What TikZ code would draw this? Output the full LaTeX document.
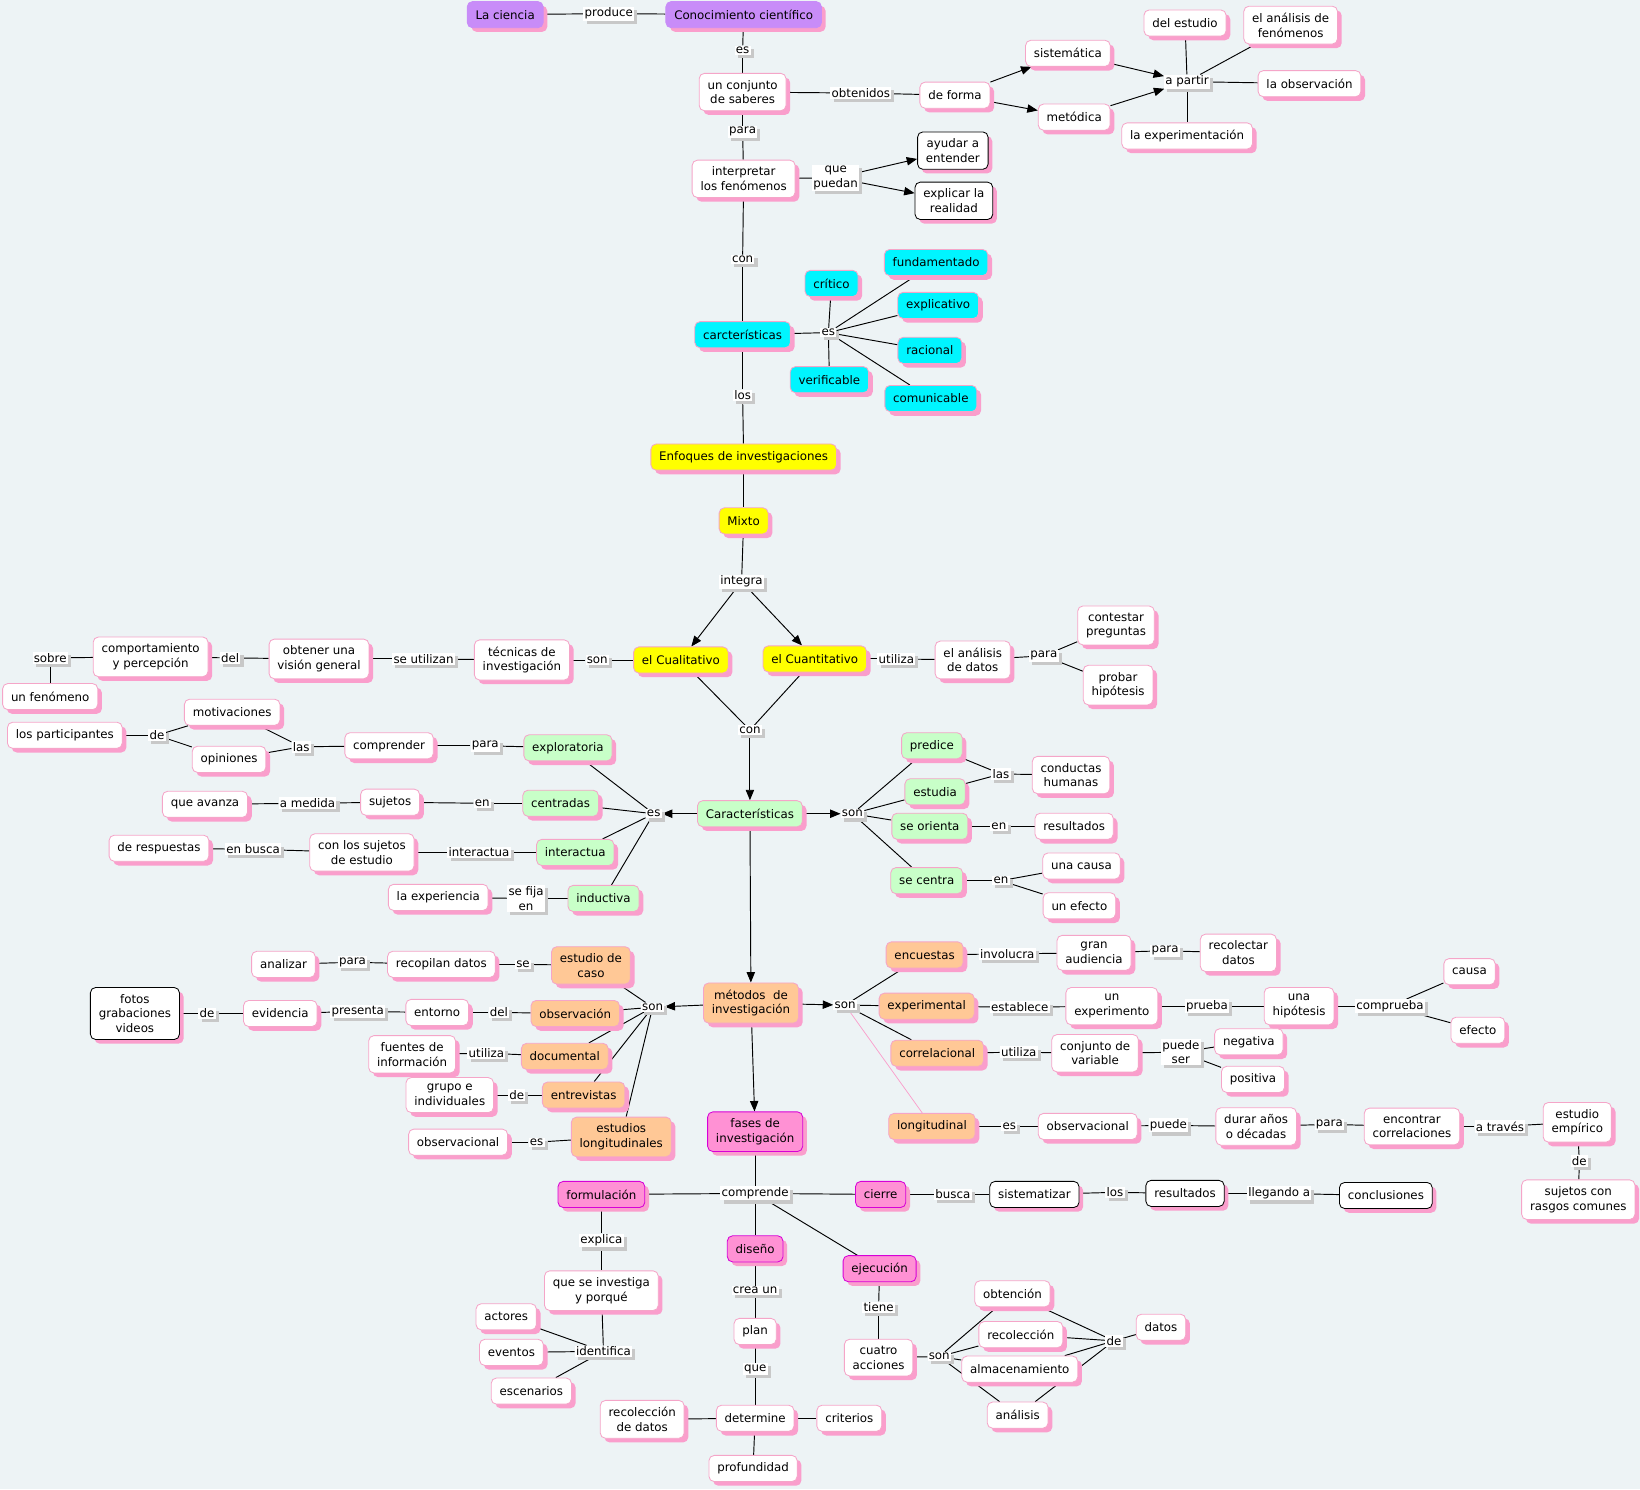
\documentclass[tikz,border=0pt]{standalone}
\usepackage{fontspec}
\setmainfont{DejaVu Sans}
\usetikzlibrary{shadows,arrows.meta}
\definecolor{bgc}{RGB}{237,243,245}
\definecolor{pk}{RGB}{245,165,200}
\definecolor{pksh}{RGB}{250,158,204}
\definecolor{purp}{RGB}{200,140,248}
\definecolor{cyn}{RGB}{0,245,255}
\definecolor{yel}{RGB}{255,255,0}
\definecolor{grn}{RGB}{200,255,200}
\definecolor{org}{RGB}{255,200,150}
\definecolor{mag}{RGB}{255,145,212}
\definecolor{magb}{RGB}{215,0,215}
\definecolor{lsh}{RGB}{200,200,200}
\newcommand\mapfont{\fontsize{11.3}{14}\selectfont}
\pgfdeclarelayer{back}
\pgfdeclarelayer{edgelayer}
\pgfsetlayers{back,edgelayer,main}
\tikzset{
 cbox/.style={draw=pk, fill=white, rounded corners=5pt, line width=0.8pt, inner xsep=8pt, inner ysep=6.5pt, minimum height=25pt, align=center, font=\mapfont, drop shadow={shadow xshift=4pt, shadow yshift=-4pt, fill=pksh, opacity=1}},
 bbox/.style={cbox, draw=black},
 purbox/.style={cbox, fill=purp, draw=purp},
 cybox/.style={cbox, fill=cyn},
 yelbox/.style={cbox, fill=yel},
 grbox/.style={cbox, fill=grn},
 orbox/.style={cbox, fill=org},
 mgbox/.style={cbox, fill=mag, draw=magb},
 lab/.style={fill=white, inner sep=1.2pt, font=\mapfont, align=center, drop shadow={shadow xshift=3pt, shadow yshift=-3pt, fill=lsh, opacity=1}},
 every edge/.style={draw=black, line width=0.9pt},
 ar/.style={-{Triangle[length=10pt,width=8pt]}},
 pkln/.style={draw=pksh, line width=0.7pt},
}
\begin{document}
\begin{tikzpicture}[x=1pt,y=-1pt]
\begin{pgfonlayer}{back}
\fill[bgc] (0,0) rectangle (1568,1424);
\end{pgfonlayer}
\useasboundingbox (0,0) rectangle (1568,1424);
% top
\node[purbox] (ciencia) at (483,14) {La ciencia};
\node[lab] (l1) at (582,13) {produce};
\node[purbox] (conoc) at (711,14) {Conocimiento científico};
\node[lab] (l2) at (710,48) {es};
\node[cbox] (conj) at (710,88) {un conjunto\\de saberes};
\node[lab] (l3) at (823,89) {obtenidos};
\node[cbox] (forma) at (913,91) {de forma};
\node[cbox] (sist) at (1021,51) {sistemática};
\node[cbox] (metod) at (1027,112) {metódica};
\node[lab] (apartir) at (1135,78) {a partir};
\node[cbox] (delest) at (1133,22) {del estudio};
\node[cbox] (analfen) at (1234,24) {el análisis de\\fenómenos};
\node[cbox] (obs) at (1252,80) {la observación};
\node[cbox] (exper) at (1135,130) {la experimentación};
\node[lab] (l4) at (710,126) {para};
\node[cbox] (interp) at (711,171) {interpretar\\los fenómenos};
\node[lab] (l5) at (799,170) {que\\puedan};
\node[bbox] (ayudar) at (911,144) {ayudar a\\entender};
\node[bbox] (explicar) at (912,192) {explicar la\\realidad};
\node[lab] (l6) at (710,248) {con};
\node[cybox] (carac) at (710,320) {carcterísticas};
\node[lab] (l7) at (792,318) {es};
\node[cybox] (critico) at (795,271) {crítico};
\node[cybox] (fund) at (895,251) {fundamentado};
\node[cybox] (explic) at (897,292) {explicativo};
\node[cybox] (racional) at (889,335) {racional};
\node[cybox] (verif) at (793,363) {verificable};
\node[cybox] (comun) at (890,381) {comunicable};
\node[lab] (l8) at (710,378) {los};
\node[yelbox] (enfoques) at (711,437) {Enfoques de investigaciones};
\node[yelbox] (mixto) at (711,498) {Mixto};
\node[lab] (l9) at (709,556) {integra};
\node[yelbox] (cuali) at (651,631) {el Cualitativo};
\node[yelbox] (cuanti) at (779,630) {el Cuantitativo};
\node[lab] (l10) at (717,698) {con};
\node[grbox] (Carac) at (717,778) {Características};
% cuantitativo
\node[lab] (l11) at (857,630) {utiliza};
\node[cbox] (analdat) at (930,631) {el análisis\\de datos};
\node[lab] (l12) at (998,627) {para};
\node[cbox] (contestar) at (1067,598) {contestar\\preguntas};
\node[cbox] (probar) at (1069,655) {probar\\hipótesis};
% cualitativo
\node[lab] (l13) at (571,631) {son};
\node[cbox] (tecnicas) at (499,631) {técnicas de\\investigación};
\node[lab] (l14) at (405,630) {se utilizan};
\node[cbox] (obtener) at (305,630) {obtener una\\visión general};
\node[lab] (l15) at (220,629) {del};
\node[cbox] (comport) at (144,628) {comportamiento\\y percepción};
\node[lab] (l16) at (48,629) {sobre};
\node[cbox] (fenomeno) at (48,666) {un fenómeno};
% green left
\node[cbox] (motiv) at (222,681) {motivaciones};
\node[cbox] (opin) at (219,726) {opiniones};
\node[lab] (l17) at (150,703) {de};
\node[cbox] (partic) at (62,703) {los participantes};
\node[lab] (l18) at (288,714) {las};
\node[cbox] (compr) at (372,713) {comprender};
\node[lab] (l19) at (464,713) {para};
\node[grbox] (explor) at (543,715) {exploratoria};
\node[lab] (l20) at (625,778) {es};
\node[grbox] (centr) at (536,768) {centradas};
\node[lab] (l21) at (461,768) {en};
\node[cbox] (sujetos) at (373,767) {sujetos};
\node[lab] (l22) at (294,768) {a medida};
\node[cbox] (avanza) at (196,769) {que avanza};
\node[grbox] (interg) at (550,815) {interactua};
\node[lab] (l23) at (458,815) {interactua};
\node[cbox] (conlos) at (346,815) {con los sujetos\\de estudio};
\node[lab] (l24) at (242,812) {en busca};
\node[cbox] (resp) at (152,811) {de respuestas};
\node[grbox] (induct) at (577,859) {inductiva};
\node[lab] (l25) at (503,859) {se fija\\en};
\node[cbox] (experien) at (419,858) {la experiencia};
% green right
\node[lab] (l26) at (815,778) {son};
\node[grbox] (predice) at (891,713) {predice};
\node[grbox] (estudia) at (894,757) {estudia};
\node[lab] (l27) at (957,740) {las};
\node[cbox] (conductas) at (1024,741) {conductas\\humanas};
\node[grbox] (orienta) at (889,790) {se orienta};
\node[lab] (l28) at (955,790) {en};
\node[cbox] (result1) at (1027,790) {resultados};
\node[grbox] (centra) at (886,842) {se centra};
\node[lab] (l29) at (957,842) {en};
\node[cbox] (causa1) at (1034,828) {una causa};
\node[cbox] (efecto1) at (1032,866) {un efecto};
% metodos
\node[orbox] (metodos) at (718,959) {métodos\ \ de\\investigación};
\node[lab] (l30) at (624,963) {son};
\node[lab] (l31) at (808,961) {son};
\node[mgbox] (fases) at (722,1082) {fases de\\investigación};
% left orange
\node[orbox] (caso) at (565,923) {estudio de\\caso};
\node[lab] (l32) at (500,922) {se};
\node[cbox] (recop) at (422,922) {recopilan datos};
\node[lab] (l33) at (337,920) {para};
\node[cbox] (analizar) at (271,922) {analizar};
\node[orbox] (observ) at (550,969) {observación};
\node[lab] (l34) at (477,968) {del};
\node[cbox] (entorno) at (418,968) {entorno};
\node[lab] (l35) at (342,967) {presenta};
\node[cbox] (evid) at (268,969) {evidencia};
\node[lab] (l36) at (198,969) {de};
\node[bbox] (fotos) at (129,969) {fotos\\grabaciones\\videos};
\node[orbox] (docum) at (540,1010) {documental};
\node[lab] (l37) at (465,1007) {utiliza};
\node[cbox] (fuentes) at (394,1008) {fuentes de\\información};
\node[orbox] (entrev) at (558,1047) {entrevistas};
\node[lab] (l38) at (494,1047) {de};
\node[cbox] (grupo) at (430,1047) {grupo e\\individuales};
\node[orbox] (longit) at (594,1087) {estudios\\longitudinales};
\node[lab] (l39) at (513,1092) {es};
\node[cbox] (observac1) at (438,1092) {observacional};
% right orange
\node[orbox] (encuestas) at (884,913) {encuestas};
\node[lab] (l40) at (963,912) {involucra};
\node[cbox] (gran) at (1046,911) {gran\\audiencia};
\node[lab] (l41) at (1114,909) {para};
\node[cbox] (recolectar) at (1184,911) {recolectar\\datos};
\node[orbox] (experim) at (886,962) {experimental};
\node[lab] (l42) at (975,963) {establece};
\node[cbox] (unexp) at (1063,962) {un\\experimento};
\node[lab] (l43) at (1154,962) {prueba};
\node[cbox] (hipot) at (1242,962) {una\\hipótesis};
\node[lab] (l44) at (1329,962) {comprueba};
\node[cbox] (causa2) at (1405,929) {causa};
\node[cbox] (efecto2) at (1413,985) {efecto};
\node[orbox] (correl) at (896,1007) {correlacional};
\node[lab] (l45) at (974,1006) {utiliza};
\node[cbox] (conjvar) at (1047,1007) {conjunto de\\variable};
\node[lab] (l46) at (1129,1006) {puede\\ser};
\node[cbox] (negat) at (1194,996) {negativa};
\node[cbox] (posit) at (1198,1032) {positiva};
\node[orbox] (longitud) at (891,1077) {longitudinal};
\node[lab] (l47) at (965,1077) {es};
\node[cbox] (observac2) at (1040,1077) {observacional};
\node[lab] (l48) at (1117,1076) {puede};
\node[cbox] (durar) at (1201,1077) {durar años\\o décadas};
\node[lab] (l49) at (1271,1075) {para};
\node[cbox] (encontrar) at (1350,1077) {encontrar\\correlaciones};
\node[lab] (l50) at (1434,1077) {a través};
\node[cbox] (empir) at (1508,1073) {estudio\\empírico};
\node[lab] (l51) at (1510,1110) {de};
\node[cbox] (sujcon) at (1509,1147) {sujetos con\\rasgos comunes};
% bottom
\node[lab] (l52) at (722,1141) {comprende};
\node[mgbox] (formul) at (575,1142) {formulación};
\node[mgbox] (cierre) at (842,1142) {cierre};
\node[lab] (l53) at (911,1142) {busca};
\node[bbox] (sistem) at (989,1142) {sistematizar};
\node[lab] (l54) at (1066,1140) {los};
\node[bbox] (result2) at (1133,1141) {resultados};
\node[lab] (l55) at (1223,1141) {llegando a};
\node[bbox] (concl) at (1325,1143) {conclusiones};
\node[mgbox] (diseno) at (722,1194) {diseño};
\node[mgbox] (ejec) at (841,1213) {ejecución};
\node[lab] (l56) at (575,1186) {explica};
\node[cbox] (queinv) at (575,1234) {que se investiga\\y porqué};
\node[lab] (l57) at (577,1292) {identifica};
\node[cbox] (actores) at (484,1259) {actores};
\node[cbox] (eventos) at (489,1293) {eventos};
\node[cbox] (escen) at (508,1330) {escenarios};
\node[lab] (l58) at (722,1234) {crea un};
\node[cbox] (plan) at (722,1273) {plan};
\node[lab] (l59) at (722,1309) {que};
\node[cbox] (determ) at (722,1356) {determine};
\node[cbox] (recdat) at (614,1357) {recolección\\de datos};
\node[cbox] (crit) at (812,1356) {criterios};
\node[cbox] (profund) at (720,1404) {profundidad};
\node[lab] (l60) at (840,1250) {tiene};
\node[cbox] (cuatro) at (840,1298) {cuatro\\acciones};
\node[lab] (l61) at (898,1297) {son};
\node[cbox] (obten) at (968,1237) {obtención};
\node[cbox] (recol) at (976,1276) {recolección};
\node[cbox] (almac) at (975,1309) {almacenamiento};
\node[cbox] (anal) at (973,1353) {análisis};
\node[lab] (l62) at (1065,1282) {de};
\node[cbox] (datos) at (1110,1269) {datos};
% connectors
\begin{pgfonlayer}{edgelayer}
\path (l1) edge (ciencia) edge (conoc);
\path (l2) edge (conoc) edge (conj);
\path (l3) edge (conj) edge (forma);
\path (forma) edge[ar] (sist) edge[ar] (metod);
\path (sist) edge[ar] (apartir);
\path (metod) edge[ar] (apartir);
\path (apartir) edge (delest) edge (analfen) edge (obs) edge (exper);
\path (l4) edge (conj) edge (interp);
\path (l5) edge (interp) edge[ar] (ayudar) edge[ar] (explicar);
\path (l6) edge (interp) edge (carac);
\path (l7) edge (carac) edge (critico) edge (fund) edge (explic) edge (racional) edge (verif) edge (comun);
\path (l8) edge (carac) edge (enfoques);
\path (enfoques) edge (mixto);
\path (l9) edge (mixto) edge[ar] (cuali) edge[ar] (cuanti);
\path (l10) edge (cuali) edge (cuanti) edge[ar] (Carac);
\path (l11) edge (cuanti) edge (analdat);
\path (l12) edge (analdat) edge (contestar) edge (probar);
\path (l13) edge (cuali) edge (tecnicas);
\path (l14) edge (tecnicas) edge (obtener);
\path (l15) edge (obtener) edge (comport);
\path (l16) edge (comport) edge (fenomeno);
\path (l17) edge (partic) edge (motiv) edge (opin);
\path (l18) edge (motiv) edge (opin) edge (compr);
\path (l19) edge (compr) edge (explor);
\path (Carac) edge[ar] (l20);
\path (l20) edge (explor) edge (centr) edge (interg) edge (induct);
\path (l21) edge (centr) edge (sujetos);
\path (l22) edge (sujetos) edge (avanza);
\path (l23) edge (interg) edge (conlos);
\path (l24) edge (conlos) edge (resp);
\path (l25) edge (induct) edge (experien);
\path (Carac) edge[ar] (l26);
\path (l26) edge (predice) edge (estudia) edge (orienta) edge (centra);
\path (l27) edge (predice) edge (estudia) edge (conductas);
\path (l28) edge (orienta) edge (result1);
\path (l29) edge (centra) edge (causa1) edge (efecto1);
\path (Carac) edge[ar] (metodos);
\path (metodos) edge[ar] (l30) edge[ar] (l31) edge[ar] (fases);
\path (l30) edge (caso) edge (observ) edge (docum) edge (entrev) edge (longit);
\path (l32) edge (caso) edge (recop);
\path (l33) edge (recop) edge (analizar);
\path (l34) edge (observ) edge (entorno);
\path (l35) edge (entorno) edge (evid);
\path (l36) edge (evid) edge (fotos);
\path (l37) edge (docum) edge (fuentes);
\path (l38) edge (entrev) edge (grupo);
\path (l39) edge (longit) edge (observac1);
\path (l31) edge (encuestas) edge (experim) edge (correl) edge[pkln] (longitud);
\path (l40) edge (encuestas) edge (gran);
\path (l41) edge (gran) edge (recolectar);
\path (l42) edge (experim) edge (unexp);
\path (l43) edge (unexp) edge (hipot);
\path (l44) edge (hipot) edge (causa2) edge (efecto2);
\path (l45) edge (correl) edge (conjvar);
\path (l46) edge (conjvar) edge (negat) edge (posit);
\path (l47) edge (longitud) edge (observac2);
\path (l48) edge (observac2) edge (durar);
\path (l49) edge (durar) edge (encontrar);
\path (l50) edge (encontrar) edge (empir);
\path (l51) edge (empir) edge (sujcon);
\path (fases) edge (l52);
\path (l52) edge (formul) edge (cierre) edge (diseno) edge (ejec);
\path (l53) edge (cierre) edge (sistem);
\path (l54) edge (sistem) edge (result2);
\path (l55) edge (result2) edge (concl);
\path (l56) edge (formul) edge (queinv);
\path (l57) edge (queinv) edge (actores) edge (eventos) edge (escen);
\path (l58) edge (diseno) edge (plan);
\path (l59) edge (plan) edge (determ);
\path (determ) edge (recdat) edge (crit) edge (profund);
\path (l60) edge (ejec) edge (cuatro);
\path (l61) edge (cuatro) edge (obten) edge (recol) edge (almac) edge (anal);
\path (l62) edge (obten) edge (recol) edge (almac) edge (anal) edge (datos);
\end{pgfonlayer}
\end{tikzpicture}
\end{document}
